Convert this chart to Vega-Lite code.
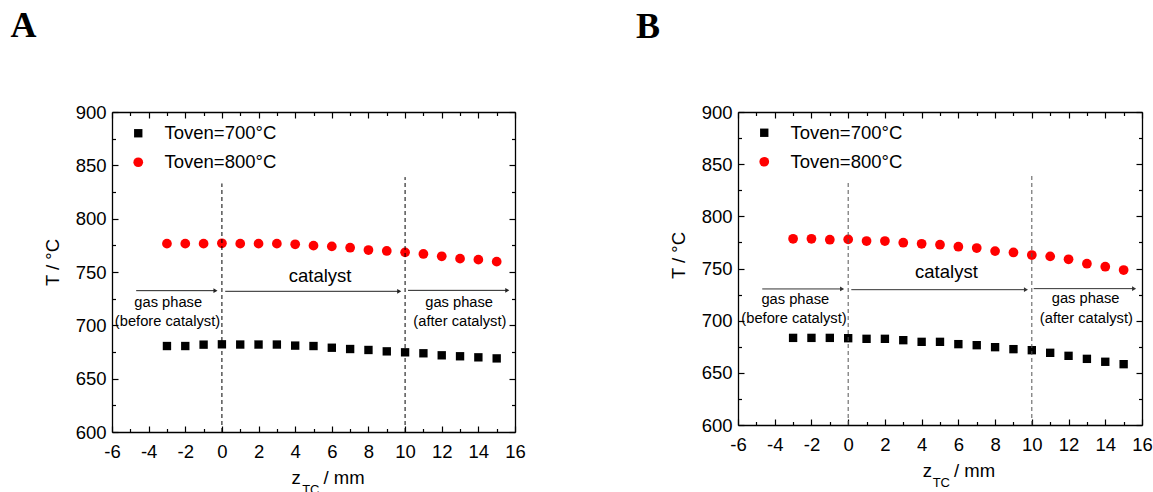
{
  "$schema": "https://vega.github.io/schema/vega-lite/v6.json",
  "padding": {"left": 10, "top": 8, "right": 0, "bottom": 0},
  "spacing": 110,
  "background": "white",
  "config": {
    "font": "Liberation Sans",
    "view": {"stroke": null},
    "axis": {"grid": false, "domainColor": "black", "domainWidth": 1.3, "tickColor": "black", "tickWidth": 1.2, "labelFont": "Liberation Sans", "labelFontSize": 18.5, "labelColor": "black", "titleFont": "Liberation Sans", "titleFontSize": 18.5, "titleFontWeight": "normal", "titleColor": "black", "labelFlush": false, "labelOverlap": false},
    "legend": {"orient": "none", "title": null, "labelFont": "Liberation Sans", "labelFontSize": 18.5, "labelColor": "black", "symbolSize": 80, "labelOffset": 17, "rowPadding": 10, "symbolStrokeWidth": 0, "padding": 0, "symbolOpacity": 1}
  },
  "resolve": {"legend": {"color": "independent", "shape": "independent"}, "scale": {"color": "independent", "shape": "independent", "size": "independent"}},
  "datasets": {
    "pts": [
      {"p":"A","s":"Toven=700°C","z":-3,"T":680.6},{"p":"A","s":"Toven=700°C","z":-2,"T":680.6},{"p":"A","s":"Toven=700°C","z":-1,"T":681.9},{"p":"A","s":"Toven=700°C","z":0,"T":682.2},{"p":"A","s":"Toven=700°C","z":1,"T":682},{"p":"A","s":"Toven=700°C","z":2,"T":682},{"p":"A","s":"Toven=700°C","z":3,"T":682},{"p":"A","s":"Toven=700°C","z":4,"T":681},{"p":"A","s":"Toven=700°C","z":5,"T":680.6},{"p":"A","s":"Toven=700°C","z":6,"T":679},{"p":"A","s":"Toven=700°C","z":7,"T":677.8},{"p":"A","s":"Toven=700°C","z":8,"T":676.9},{"p":"A","s":"Toven=700°C","z":9,"T":675.6},{"p":"A","s":"Toven=700°C","z":10,"T":674.7},{"p":"A","s":"Toven=700°C","z":11,"T":673.8},{"p":"A","s":"Toven=700°C","z":12,"T":671.9},{"p":"A","s":"Toven=700°C","z":13,"T":671},{"p":"A","s":"Toven=700°C","z":14,"T":670},{"p":"A","s":"Toven=700°C","z":15,"T":669},
      {"p":"A","s":"Toven=800°C","z":-3,"T":776.6},{"p":"A","s":"Toven=800°C","z":-2,"T":776.6},{"p":"A","s":"Toven=800°C","z":-1,"T":776.6},{"p":"A","s":"Toven=800°C","z":0,"T":776.9},{"p":"A","s":"Toven=800°C","z":1,"T":776.6},{"p":"A","s":"Toven=800°C","z":2,"T":776.6},{"p":"A","s":"Toven=800°C","z":3,"T":776.6},{"p":"A","s":"Toven=800°C","z":4,"T":776},{"p":"A","s":"Toven=800°C","z":5,"T":774.7},{"p":"A","s":"Toven=800°C","z":6,"T":774},{"p":"A","s":"Toven=800°C","z":7,"T":772.8},{"p":"A","s":"Toven=800°C","z":8,"T":770.6},{"p":"A","s":"Toven=800°C","z":9,"T":769.7},{"p":"A","s":"Toven=800°C","z":10,"T":768.4},{"p":"A","s":"Toven=800°C","z":11,"T":766.9},{"p":"A","s":"Toven=800°C","z":12,"T":764.7},{"p":"A","s":"Toven=800°C","z":13,"T":762.5},{"p":"A","s":"Toven=800°C","z":14,"T":761.6},{"p":"A","s":"Toven=800°C","z":15,"T":759.7},
      {"p":"B","s":"Toven=700°C","z":-3,"T":683.5},{"p":"B","s":"Toven=700°C","z":-2,"T":683.5},{"p":"B","s":"Toven=700°C","z":-1,"T":683.5},{"p":"B","s":"Toven=700°C","z":0,"T":683.2},{"p":"B","s":"Toven=700°C","z":1,"T":682.6},{"p":"B","s":"Toven=700°C","z":2,"T":682.6},{"p":"B","s":"Toven=700°C","z":3,"T":681.3},{"p":"B","s":"Toven=700°C","z":4,"T":679.7},{"p":"B","s":"Toven=700°C","z":5,"T":679.7},{"p":"B","s":"Toven=700°C","z":6,"T":677.5},{"p":"B","s":"Toven=700°C","z":7,"T":676.5},{"p":"B","s":"Toven=700°C","z":8,"T":674.6},{"p":"B","s":"Toven=700°C","z":9,"T":672.7},{"p":"B","s":"Toven=700°C","z":10,"T":671.7},{"p":"B","s":"Toven=700°C","z":11,"T":669.2},{"p":"B","s":"Toven=700°C","z":12,"T":666.3},{"p":"B","s":"Toven=700°C","z":13,"T":663.4},{"p":"B","s":"Toven=700°C","z":14,"T":660.6},{"p":"B","s":"Toven=700°C","z":15,"T":658.3},
      {"p":"B","s":"Toven=800°C","z":-3,"T":778.5},{"p":"B","s":"Toven=800°C","z":-2,"T":778.5},{"p":"B","s":"Toven=800°C","z":-1,"T":777.6},{"p":"B","s":"Toven=800°C","z":0,"T":777.9},{"p":"B","s":"Toven=800°C","z":1,"T":776.3},{"p":"B","s":"Toven=800°C","z":2,"T":776.3},{"p":"B","s":"Toven=800°C","z":3,"T":774.7},{"p":"B","s":"Toven=800°C","z":4,"T":773.7},{"p":"B","s":"Toven=800°C","z":5,"T":772.8},{"p":"B","s":"Toven=800°C","z":6,"T":770.9},{"p":"B","s":"Toven=800°C","z":7,"T":769.6},{"p":"B","s":"Toven=800°C","z":8,"T":766.7},{"p":"B","s":"Toven=800°C","z":9,"T":765.4},{"p":"B","s":"Toven=800°C","z":10,"T":762.9},{"p":"B","s":"Toven=800°C","z":11,"T":761.6},{"p":"B","s":"Toven=800°C","z":12,"T":758.8},{"p":"B","s":"Toven=800°C","z":13,"T":754.6},{"p":"B","s":"Toven=800°C","z":14,"T":751.7},{"p":"B","s":"Toven=800°C","z":15,"T":748.5}
    ],
    "vlines": [
      {"p":"A","z":0,"T":600,"T2":833},{"p":"A","z":10,"T":600,"T2":839},
      {"p":"B","z":0,"T":600,"T2":834},{"p":"B","z":10,"T":600,"T2":839}
    ],
    "arrows": [
      {"p":"A","z":-4.68,"z2":-0.35,"T":732.5},{"p":"A","z":0.18,"z2":9.68,"T":731.9},{"p":"A","z":10.16,"z2":15.58,"T":732.8},
      {"p":"B","z":-4.68,"z2":-0.33,"T":730.4},{"p":"B","z":0.17,"z2":9.68,"T":729.7},{"p":"B","z":10.1,"z2":15.57,"T":730.7}
    ],
    "notes": [
      {"p":"A","k":"big","t":"catalyst","z":5.36,"T":741},
      {"p":"A","k":"small","t":"gas phase","z":-2.93,"T":717.3},
      {"p":"A","k":"small","t":"(before catalyst)","z":-2.97,"T":699.8},
      {"p":"A","k":"small","t":"gas phase","z":12.95,"T":717.3},
      {"p":"A","k":"small","t":"(after catalyst)","z":12.99,"T":699.5},
      {"p":"A","k":"xt","t":"z","z":3.8,"T":551},
      {"p":"A","k":"sub","t":"TC","z":4.38,"T":542.2},
      {"p":"A","k":"xt","t":"/ mm","z":5.55,"T":551},
      {"p":"B","k":"big","t":"catalyst","z":5.35,"T":740.6},
      {"p":"B","k":"small","t":"gas phase","z":-2.88,"T":715.5},
      {"p":"B","k":"small","t":"(before catalyst)","z":-2.95,"T":697.3},
      {"p":"B","k":"small","t":"gas phase","z":12.93,"T":716.8},
      {"p":"B","k":"small","t":"(after catalyst)","z":12.97,"T":698},
      {"p":"B","k":"xt","t":"z","z":4.06,"T":549.9},
      {"p":"B","k":"sub","t":"TC","z":4.6,"T":540.9},
      {"p":"B","k":"xt","t":"/ mm","z":5.76,"T":549.9}
    ]
  },
  "hconcat": [
    {
      "width": 403, "height": 320,
      "title": {"text": "A", "anchor": "start", "frame": "group", "font": "Liberation Serif", "fontSize": 36, "fontWeight": "bold", "dx": -101.5, "offset": 30, "baseline": "alphabetic", "color": "black"},
      "resolve": {"axis": {"x": "independent", "y": "independent"}},
      "layer": [
        {
          "data": {"name": "pts"},
          "transform": [{"filter": "datum.p === 'A'"}],
          "mark": {"type": "point", "filled": true, "opacity": 1},
          "encoding": {
            "x": {"field": "z", "type": "quantitative", "scale": {"domain": [-6, 16], "nice": false, "zero": false}, "axis": {"orient": "bottom", "values": [-6,-4,-2,0,2,4,6,8,10,12,14,16], "tickSize": -6, "labelPadding": 16, "labelExpr": "'' + datum.value", "title": null}},
            "y": {"field": "T", "type": "quantitative", "scale": {"domain": [600, 900], "nice": false, "zero": false}, "axis": {"orient": "left", "values": [600,650,700,750,800,850,900], "tickSize": -6, "labelPadding": 12, "title": "T / °C", "titleX": -54, "titleY": 150, "titleBaseline": "alphabetic", "titleAngle": -90}},
            "color": {"field": "s", "type": "nominal", "scale": {"domain": ["Toven=700°C", "Toven=800°C"], "range": ["#000000", "#ff0000"]}, "legend": {"legendX": 17, "legendY": 12}},
            "shape": {"field": "s", "type": "nominal", "scale": {"domain": ["Toven=700°C", "Toven=800°C"], "range": ["square", "circle"]}, "legend": {"legendX": 17, "legendY": 12}},
            "size": {"field": "s", "type": "ordinal", "scale": {"domain": ["Toven=700°C", "Toven=800°C"], "range": [70, 95]}, "legend": null}
          }
        },
        {
          "data": {"name": "pts"},
          "transform": [{"filter": "datum.p === 'A'"}],
          "mark": {"type": "point", "opacity": 0},
          "encoding": {
            "x": {"field": "z", "type": "quantitative", "scale": {"domain": [-6, 16], "nice": false, "zero": false}, "axis": {"orient": "bottom", "values": [-5,-3,-1,1,3,5,7,9,11,13,15], "tickSize": -3.5, "labels": false, "domain": false, "title": null}},
            "y": {"field": "T", "type": "quantitative", "scale": {"domain": [600, 900], "nice": false, "zero": false}, "axis": {"orient": "left", "values": [625,675,725,775,825,875], "tickSize": -3.5, "labels": false, "domain": false, "title": null}}
          }
        },
        {
          "data": {"name": "pts"},
          "transform": [{"filter": "datum.p === 'A'"}],
          "mark": {"type": "point", "opacity": 0},
          "encoding": {
            "x": {"field": "z", "type": "quantitative", "scale": {"domain": [-6, 16], "nice": false, "zero": false}, "axis": {"orient": "top", "values": [-6,-4,-2,0,2,4,6,8,10,12,14,16], "tickSize": -6, "labels": false, "title": null}},
            "y": {"field": "T", "type": "quantitative", "scale": {"domain": [600, 900], "nice": false, "zero": false}, "axis": {"orient": "right", "values": [600,650,700,750,800,850,900], "tickSize": -6, "labels": false, "title": null}}
          }
        },
        {
          "data": {"name": "pts"},
          "transform": [{"filter": "datum.p === 'A'"}],
          "mark": {"type": "point", "opacity": 0},
          "encoding": {
            "x": {"field": "z", "type": "quantitative", "scale": {"domain": [-6, 16], "nice": false, "zero": false}, "axis": {"orient": "top", "values": [-5,-3,-1,1,3,5,7,9,11,13,15], "tickSize": -3.5, "labels": false, "domain": false, "title": null}},
            "y": {"field": "T", "type": "quantitative", "scale": {"domain": [600, 900], "nice": false, "zero": false}, "axis": {"orient": "right", "values": [625,675,725,775,825,875], "tickSize": -3.5, "labels": false, "domain": false, "title": null}}
          }
        },
        {
          "data": {"name": "vlines"},
          "transform": [{"filter": "datum.p === 'A'"}],
          "mark": {"type": "rule", "color": "#000000", "strokeWidth": 1, "strokeDash": [4, 3]},
          "encoding": {
            "x": {"field": "z", "type": "quantitative", "scale": {"domain": [-6, 16], "nice": false, "zero": false}, "axis": null},
            "y": {"field": "T", "type": "quantitative", "scale": {"domain": [600, 900], "nice": false, "zero": false}, "axis": null},
            "y2": {"field": "T2"}
          }
        },
        {
          "data": {"name": "arrows"},
          "transform": [{"filter": "datum.p === 'A'"}],
          "mark": {"type": "rule", "color": "#222222", "strokeWidth": 1},
          "encoding": {
            "x": {"field": "z", "type": "quantitative", "scale": {"domain": [-6, 16], "nice": false, "zero": false}, "axis": null},
            "x2": {"field": "z2"},
            "y": {"field": "T", "type": "quantitative", "scale": {"domain": [600, 900], "nice": false, "zero": false}, "axis": null}
          }
        },
        {
          "data": {"name": "arrows"},
          "transform": [{"filter": "datum.p === 'A'"}],
          "mark": {"type": "point", "shape": "triangle-right", "filled": true, "color": "#222222", "size": 22, "opacity": 1},
          "encoding": {
            "x": {"field": "z2", "type": "quantitative", "scale": {"domain": [-6, 16], "nice": false, "zero": false}, "axis": null},
            "y": {"field": "T", "type": "quantitative", "scale": {"domain": [600, 900], "nice": false, "zero": false}, "axis": null}
          }
        },
        {
          "data": {"name": "notes"},
          "transform": [{"filter": "datum.p === 'A' && datum.k === 'big'"}],
          "mark": {"type": "text", "fontSize": 18.5, "align": "center", "baseline": "alphabetic", "color": "black"},
          "encoding": {
            "x": {"field": "z", "type": "quantitative", "scale": {"domain": [-6, 16], "nice": false, "zero": false}, "axis": null},
            "y": {"field": "T", "type": "quantitative", "scale": {"domain": [600, 900], "nice": false, "zero": false}, "axis": null},
            "text": {"field": "t"}
          }
        },
        {
          "data": {"name": "notes"},
          "transform": [{"filter": "datum.p === 'A' && datum.k === 'small'"}],
          "mark": {"type": "text", "fontSize": 14.7, "align": "center", "baseline": "alphabetic", "color": "black"},
          "encoding": {
            "x": {"field": "z", "type": "quantitative", "scale": {"domain": [-6, 16], "nice": false, "zero": false}, "axis": null},
            "y": {"field": "T", "type": "quantitative", "scale": {"domain": [600, 900], "nice": false, "zero": false}, "axis": null},
            "text": {"field": "t"}
          }
        },
        {
          "data": {"name": "notes"},
          "transform": [{"filter": "datum.p === 'A' && datum.k === 'xt'"}],
          "mark": {"type": "text", "fontSize": 18.5, "align": "left", "baseline": "alphabetic", "color": "black"},
          "encoding": {
            "x": {"field": "z", "type": "quantitative", "scale": {"domain": [-6, 16], "nice": false, "zero": false}, "axis": null},
            "y": {"field": "T", "type": "quantitative", "scale": {"domain": [600, 900], "nice": false, "zero": false}, "axis": null},
            "text": {"field": "t"}
          }
        },
        {
          "data": {"name": "notes"},
          "transform": [{"filter": "datum.p === 'A' && datum.k === 'sub'"}],
          "mark": {"type": "text", "fontSize": 13, "align": "left", "baseline": "alphabetic", "color": "black"},
          "encoding": {
            "x": {"field": "z", "type": "quantitative", "scale": {"domain": [-6, 16], "nice": false, "zero": false}, "axis": null},
            "y": {"field": "T", "type": "quantitative", "scale": {"domain": [600, 900], "nice": false, "zero": false}, "axis": null},
            "text": {"field": "t"}
          }
        }
      ]
    },
    {
      "width": 404, "height": 313,
      "title": {"text": "B", "anchor": "start", "frame": "group", "font": "Liberation Serif", "fontSize": 36, "fontWeight": "bold", "dx": -102, "offset": 29, "baseline": "alphabetic", "color": "black"},
      "resolve": {"axis": {"x": "independent", "y": "independent"}},
      "layer": [
        {
          "data": {"name": "pts"},
          "transform": [{"filter": "datum.p === 'B'"}],
          "mark": {"type": "point", "filled": true, "opacity": 1},
          "encoding": {
            "x": {"field": "z", "type": "quantitative", "scale": {"domain": [-6, 16], "nice": false, "zero": false}, "axis": {"orient": "bottom", "values": [-6,-4,-2,0,2,4,6,8,10,12,14,16], "tickSize": -6, "labelPadding": 16, "labelExpr": "'' + datum.value", "title": null}},
            "y": {"field": "T", "type": "quantitative", "scale": {"domain": [600, 900], "nice": false, "zero": false}, "axis": {"orient": "left", "values": [600,650,700,750,800,850,900], "tickSize": -6, "labelPadding": 12, "title": "T / °C", "titleX": -54, "titleY": 143, "titleBaseline": "alphabetic", "titleAngle": -90}},
            "color": {"field": "s", "type": "nominal", "scale": {"domain": ["Toven=700°C", "Toven=800°C"], "range": ["#000000", "#ff0000"]}, "legend": {"legendX": 17, "legendY": 11.5}},
            "shape": {"field": "s", "type": "nominal", "scale": {"domain": ["Toven=700°C", "Toven=800°C"], "range": ["square", "circle"]}, "legend": {"legendX": 17, "legendY": 11.5}},
            "size": {"field": "s", "type": "ordinal", "scale": {"domain": ["Toven=700°C", "Toven=800°C"], "range": [70, 95]}, "legend": null}
          }
        },
        {
          "data": {"name": "pts"},
          "transform": [{"filter": "datum.p === 'B'"}],
          "mark": {"type": "point", "opacity": 0},
          "encoding": {
            "x": {"field": "z", "type": "quantitative", "scale": {"domain": [-6, 16], "nice": false, "zero": false}, "axis": {"orient": "bottom", "values": [-5,-3,-1,1,3,5,7,9,11,13,15], "tickSize": -3.5, "labels": false, "domain": false, "title": null}},
            "y": {"field": "T", "type": "quantitative", "scale": {"domain": [600, 900], "nice": false, "zero": false}, "axis": {"orient": "left", "values": [625,675,725,775,825,875], "tickSize": -3.5, "labels": false, "domain": false, "title": null}}
          }
        },
        {
          "data": {"name": "pts"},
          "transform": [{"filter": "datum.p === 'B'"}],
          "mark": {"type": "point", "opacity": 0},
          "encoding": {
            "x": {"field": "z", "type": "quantitative", "scale": {"domain": [-6, 16], "nice": false, "zero": false}, "axis": {"orient": "top", "values": [-6,-4,-2,0,2,4,6,8,10,12,14,16], "tickSize": -6, "labels": false, "title": null}},
            "y": {"field": "T", "type": "quantitative", "scale": {"domain": [600, 900], "nice": false, "zero": false}, "axis": {"orient": "right", "values": [600,650,700,750,800,850,900], "tickSize": -6, "labels": false, "title": null}}
          }
        },
        {
          "data": {"name": "pts"},
          "transform": [{"filter": "datum.p === 'B'"}],
          "mark": {"type": "point", "opacity": 0},
          "encoding": {
            "x": {"field": "z", "type": "quantitative", "scale": {"domain": [-6, 16], "nice": false, "zero": false}, "axis": {"orient": "top", "values": [-5,-3,-1,1,3,5,7,9,11,13,15], "tickSize": -3.5, "labels": false, "domain": false, "title": null}},
            "y": {"field": "T", "type": "quantitative", "scale": {"domain": [600, 900], "nice": false, "zero": false}, "axis": {"orient": "right", "values": [625,675,725,775,825,875], "tickSize": -3.5, "labels": false, "domain": false, "title": null}}
          }
        },
        {
          "data": {"name": "vlines"},
          "transform": [{"filter": "datum.p === 'B'"}],
          "mark": {"type": "rule", "color": "#555555", "strokeWidth": 1, "strokeDash": [4, 3]},
          "encoding": {
            "x": {"field": "z", "type": "quantitative", "scale": {"domain": [-6, 16], "nice": false, "zero": false}, "axis": null},
            "y": {"field": "T", "type": "quantitative", "scale": {"domain": [600, 900], "nice": false, "zero": false}, "axis": null},
            "y2": {"field": "T2"}
          }
        },
        {
          "data": {"name": "arrows"},
          "transform": [{"filter": "datum.p === 'B'"}],
          "mark": {"type": "rule", "color": "#333333", "strokeWidth": 1},
          "encoding": {
            "x": {"field": "z", "type": "quantitative", "scale": {"domain": [-6, 16], "nice": false, "zero": false}, "axis": null},
            "x2": {"field": "z2"},
            "y": {"field": "T", "type": "quantitative", "scale": {"domain": [600, 900], "nice": false, "zero": false}, "axis": null}
          }
        },
        {
          "data": {"name": "arrows"},
          "transform": [{"filter": "datum.p === 'B'"}],
          "mark": {"type": "point", "shape": "triangle-right", "filled": true, "color": "#333333", "size": 22, "opacity": 1},
          "encoding": {
            "x": {"field": "z2", "type": "quantitative", "scale": {"domain": [-6, 16], "nice": false, "zero": false}, "axis": null},
            "y": {"field": "T", "type": "quantitative", "scale": {"domain": [600, 900], "nice": false, "zero": false}, "axis": null}
          }
        },
        {
          "data": {"name": "notes"},
          "transform": [{"filter": "datum.p === 'B' && datum.k === 'big'"}],
          "mark": {"type": "text", "fontSize": 18.5, "align": "center", "baseline": "alphabetic", "color": "black"},
          "encoding": {
            "x": {"field": "z", "type": "quantitative", "scale": {"domain": [-6, 16], "nice": false, "zero": false}, "axis": null},
            "y": {"field": "T", "type": "quantitative", "scale": {"domain": [600, 900], "nice": false, "zero": false}, "axis": null},
            "text": {"field": "t"}
          }
        },
        {
          "data": {"name": "notes"},
          "transform": [{"filter": "datum.p === 'B' && datum.k === 'small'"}],
          "mark": {"type": "text", "fontSize": 14.7, "align": "center", "baseline": "alphabetic", "color": "black"},
          "encoding": {
            "x": {"field": "z", "type": "quantitative", "scale": {"domain": [-6, 16], "nice": false, "zero": false}, "axis": null},
            "y": {"field": "T", "type": "quantitative", "scale": {"domain": [600, 900], "nice": false, "zero": false}, "axis": null},
            "text": {"field": "t"}
          }
        },
        {
          "data": {"name": "notes"},
          "transform": [{"filter": "datum.p === 'B' && datum.k === 'xt'"}],
          "mark": {"type": "text", "fontSize": 18.5, "align": "left", "baseline": "alphabetic", "color": "black"},
          "encoding": {
            "x": {"field": "z", "type": "quantitative", "scale": {"domain": [-6, 16], "nice": false, "zero": false}, "axis": null},
            "y": {"field": "T", "type": "quantitative", "scale": {"domain": [600, 900], "nice": false, "zero": false}, "axis": null},
            "text": {"field": "t"}
          }
        },
        {
          "data": {"name": "notes"},
          "transform": [{"filter": "datum.p === 'B' && datum.k === 'sub'"}],
          "mark": {"type": "text", "fontSize": 13, "align": "left", "baseline": "alphabetic", "color": "black"},
          "encoding": {
            "x": {"field": "z", "type": "quantitative", "scale": {"domain": [-6, 16], "nice": false, "zero": false}, "axis": null},
            "y": {"field": "T", "type": "quantitative", "scale": {"domain": [600, 900], "nice": false, "zero": false}, "axis": null},
            "text": {"field": "t"}
          }
        }
      ]
    }
  ]
}
